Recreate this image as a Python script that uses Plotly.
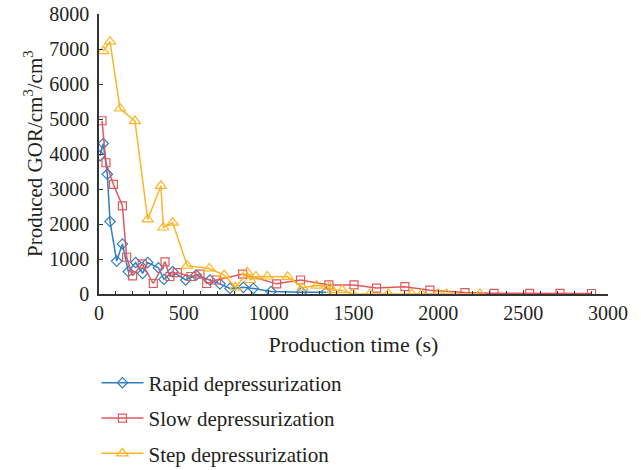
import plotly.graph_objects as go

rapid_t = [6, 25, 49, 65, 104, 138, 173, 216, 257, 287, 350, 383, 434, 511, 572, 654, 713, 772, 851, 910, 1014, 1195, 1338]
rapid_v = [3950, 4300, 3420, 2070, 940, 1430, 640, 900, 590, 900, 750, 420, 640, 400, 540, 400, 290, 160, 190, 160, 70, 50, 50]

slow_t = [18, 41, 85, 138, 163, 198, 255, 320, 389, 418, 461, 542, 595, 635, 693, 847, 1047, 1188, 1355, 1503, 1636, 1803, 1950, 2157, 2328, 2538, 2717, 2903]
slow_v = [4950, 3750, 3130, 2520, 1050, 520, 860, 300, 920, 500, 610, 500, 570, 300, 400, 570, 290, 400, 260, 260, 170, 210, 110, 40, 20, 20, 20, 15]

step_t = [25, 65, 124, 212, 287, 365, 379, 434, 520, 650, 738, 805, 874, 890, 925, 992, 1112, 1200, 1283, 1357, 1375, 1434, 1495, 1597, 1705, 1843, 1901, 2000, 2049, 2245]
step_v = [6940, 7210, 5300, 4940, 2130, 3090, 1900, 2040, 810, 730, 540, 190, 620, 400, 500, 500, 490, 180, 240, 210, 110, 110, 0, 0, 0, 0, 0, 0, 0, 0]

x_ticks = [0, 500, 1000, 1500, 2000, 2500, 3000]

series = [
    ("Rapid depressurization", rapid_t, rapid_v, "#2e7fc1", "diamond-open", 8),
    ("Slow depressurization", slow_t, slow_v, "#e0585c", "square-open", 8),
    ("Step depressurization", step_t, step_v, "#fbb526", "triangle-up-open", 10),
]

FONT = "Liberation Serif"
fig = go.Figure()
for i, (name, t, v, col, sym, sz) in enumerate(series):
    fig.add_trace(go.Scatter(
        x=t, y=v, name=name, mode="lines+markers",
        line=dict(color=col, width=1.5),
        marker=dict(symbol=sym, size=sz, color=col, line=dict(width=1.2, color=col)),
        legendgroup=str(i),
    ))

fig.update_layout(
    width=641, height=470,
    margin=dict(l=99, r=33, t=14, b=176, autoexpand=False),
    paper_bgcolor="white", plot_bgcolor="white",
    font=dict(family=FONT, size=19, color="#231f20"),
    showlegend=True,
    legend=dict(orientation="v", x=-0.005, y=-0.245, xanchor="left", yanchor="top",
                traceorder="grouped", tracegroupgap=5, itemwidth=42,
                font=dict(family=FONT, size=21, color="#231f20"),
                bgcolor="rgba(0,0,0,0)"),
    annotations=[dict(
        text="Produced GOR/cm<sup>3</sup>/cm<sup>3</sup>",
        xref="paper", yref="paper", x=(33 - 99) / 509, y=0.5,
        xanchor="center", yanchor="middle", textangle=-90, showarrow=False,
        font=dict(family=FONT, size=21, color="#231f20"),
    )],
)
fig.update_xaxes(
    range=[0, 3000], tickvals=x_ticks,
    ticks="inside", ticklen=4, tickcolor="#333", showgrid=False, zeroline=False,
    showline=True, linecolor="#333", linewidth=1.5,
    minor=dict(dtick=100, ticks="inside", ticklen=3, tickcolor="#333", showgrid=False),
    title=dict(text="Production time (s)", font=dict(family=FONT, size=22), standoff=14),
    tickfont=dict(family=FONT, size=20),
)
fig.update_yaxes(
    range=[0, 8000], dtick=1000,
    ticks="inside", ticklen=4, tickcolor="#333", showgrid=False, zeroline=False,
    showline=True, linecolor="#333", linewidth=1.5,
    ticklabelstandoff=4,
    tickfont=dict(family=FONT, size=20),
)

fig.write_html("out.html")
